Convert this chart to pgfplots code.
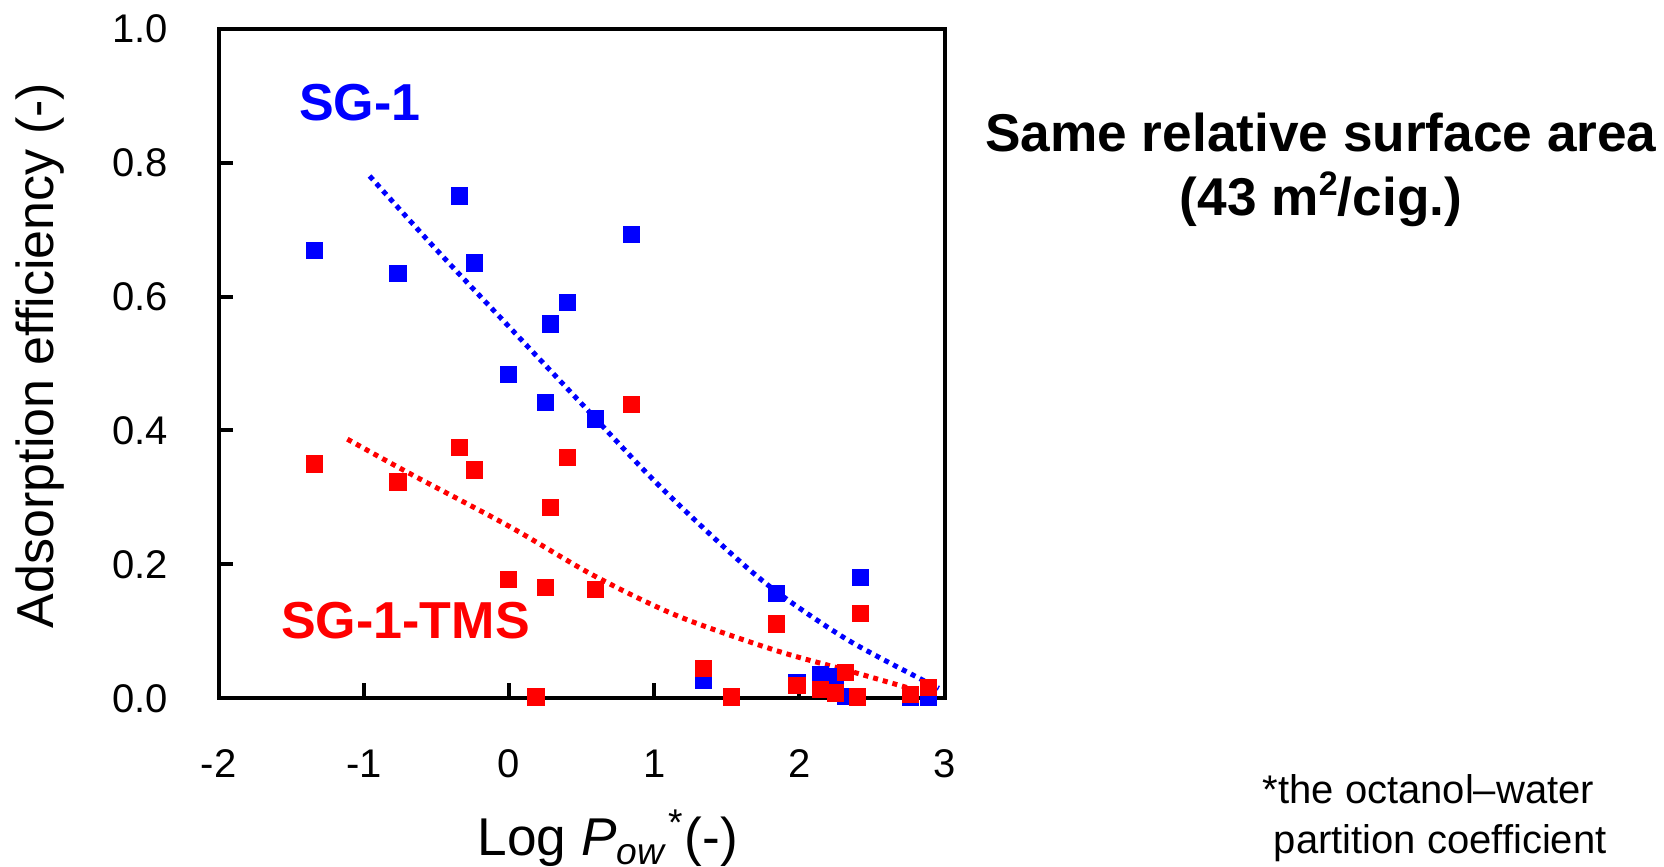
\documentclass[border=0pt]{standalone}
\usepackage{fontspec}
\setmainfont{Liberation Sans}
\usepackage{pgfplots}
\pgfplotsset{compat=1.18}

\definecolor{sgblue}{RGB}{0,0,255}
\definecolor{sgred}{RGB}{255,0,0}

\begin{document}
\begin{tikzpicture}
\path[use as bounding box] (-54.65pt,-42.175pt) rectangle (361.35pt,174.575pt);
\begin{axis}[
  scale only axis,
  width=181.5pt, height=167.4pt,
  xmin=-2, xmax=3, ymin=0, ymax=1,
  xtick={-2,-1,0,1,2,3},
  ytick={0,0.2,0.4,0.6,0.8,1.0},
  xtick pos=bottom, ytick pos=left,
  tick align=inside,
  major tick length=3.7pt,
  axis line style={line width=1pt},
  tick style={line width=1pt, black},
  /pgf/number format/assume math mode=true,
  tick label style={font=\fontsize{10}{12}\selectfont},
  xticklabel style={anchor=center, yshift=-16.3pt},
  yticklabel style={anchor=east, xshift=-9.1pt,
    /pgf/number format/.cd, fixed, fixed zerofill, precision=1},
  xlabel={Log \textit{P}\textsubscript{\textit{ow}}\textsuperscript{*}(-)},
  ylabel={Adsorption efficiency (-)},
  every axis x label/.style={at={(axis description cs:0.536,-0.2355)}, anchor=base,
    font=\fontsize{13.3}{16}\selectfont},
  every axis y label/.style={at={(axis description cs:-0.246,0.512)}, anchor=center,
    rotate=90, font=\fontsize{13}{16}\selectfont},
  clip=false,
]
% SG-1
\addplot[only marks, mark=square*, mark size=1.95pt, color=sgblue] coordinates {
  (-1.342,0.669) (-0.765,0.634) (-0.341,0.750) (-0.238,0.650) (-0.004,0.483)
  (0.186,0.002) (0.251,0.442) (0.288,0.559) (0.405,0.591) (0.595,0.417)
  (0.844,0.693) (1.341,0.026) (1.530,0.002) (1.845,0.157) (1.984,0.024)
  (2.145,0.035) (2.250,0.033) (2.320,0.003) (2.400,0.002) (2.420,0.181)
  (2.766,0.002) (2.890,0.002)
};
% SG-1-TMS
\addplot[only marks, mark=square*, mark size=1.95pt, color=sgred] coordinates {
  (-1.342,0.350) (-0.765,0.323) (-0.341,0.374) (-0.238,0.341) (-0.004,0.178)
  (0.186,0.002) (0.251,0.165) (0.288,0.285) (0.405,0.360) (0.595,0.162)
  (0.844,0.439) (1.341,0.044) (1.530,0.002) (1.845,0.111) (1.984,0.019)
  (2.145,0.013) (2.250,0.008) (2.320,0.038) (2.400,0.002) (2.420,0.127)
  (2.766,0.006) (2.890,0.016)
};
% trend lines
\addplot[sgblue, smooth, line width=1.25pt, dash pattern=on 1.25pt off 1.25pt] coordinates {
  (-0.96,0.780) (-0.5,0.670) (0,0.555) (0.5,0.440) (1,0.325)
  (1.5,0.222) (1.85,0.158) (2.35,0.085) (2.96,0.015)
};
\addplot[sgred, smooth, line width=1.25pt, dash pattern=on 1.25pt off 1.25pt] coordinates {
  (-1.113,0.387) (-0.686,0.336) (0,0.257) (0.578,0.184) (1.161,0.123)
  (1.844,0.071) (2.357,0.040) (2.95,0.003)
};
\node[text=sgblue, font=\fontsize{13}{15}\bfseries\selectfont] at (axis cs:-1.028,0.889) {SG-1};
\node[text=sgred, font=\fontsize{13}{15}\bfseries\selectfont] at (axis cs:-0.713,0.116) {SG-1-TMS};
\end{axis}
\node[anchor=base, font=\fontsize{13.3}{16}\bfseries\selectfont] at (275.6pt,136.6pt) {Same relative surface area};
\node[anchor=base, font=\fontsize{13.3}{16}\bfseries\selectfont] at (275.6pt,120.6pt) {(43 m\raisebox{0.38em}{\fontsize{8.5}{9}\selectfont 2}/cig.)};
\node[anchor=base west, inner sep=0pt, font=\fontsize{10}{12}\selectfont] at (260.85pt,-26.2pt) {*the octanol–water};
\node[anchor=base west, inner sep=0pt, font=\fontsize{10}{12}\selectfont] at (263.6pt,-38.7pt) {partition coefficient};
\end{tikzpicture}
\end{document}
